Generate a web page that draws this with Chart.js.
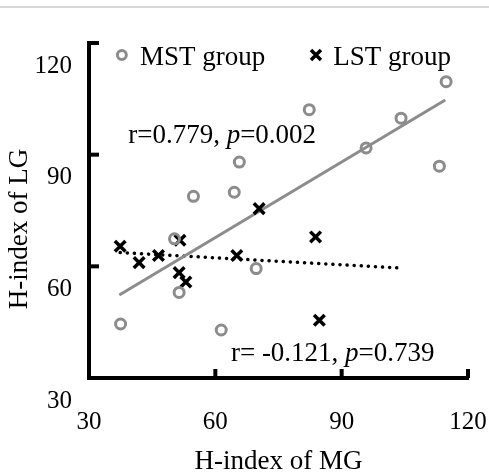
<!DOCTYPE html>
<html>
<head>
<meta charset="utf-8">
<script src="https://cdn.jsdelivr.net/npm/chart.js@4"></script>
<style>
  html, body { margin: 0; padding: 0; background: #fff; }
  #wrap { width: 489px; height: 475px; }
</style>
</head>
<body>
<div id="wrap"><canvas id="scatter" width="489" height="475"></canvas></div>
<script>
// H-index values
const mstPoints = [
    { x: 37.5, y: 44.5 }, { x: 61.4, y: 42.9 }, { x: 51.4, y: 53.0 },
    { x: 50.3, y: 67.4 }, { x: 54.8, y: 78.8 }, { x: 64.5, y: 79.9 },
    { x: 65.7, y: 88.0 }, { x: 69.7, y: 59.4 }, { x: 82.3, y: 102.1 },
    { x: 95.8, y: 91.8 }, { x: 104.1, y: 99.8 }, { x: 113.2, y: 86.9 },
    { x: 114.8, y: 109.6 }
];
const lstPoints = [
    { x: 37.4, y: 65.4 }, { x: 41.9, y: 61.0 }, { x: 46.5, y: 62.9 },
    { x: 51.6, y: 67.0 }, { x: 51.4, y: 58.3 }, { x: 53.0, y: 55.8 },
    { x: 65.1, y: 62.9 }, { x: 70.4, y: 75.5 }, { x: 83.8, y: 67.9 },
    { x: 84.7, y: 45.5 }
];
const mstTrend = [{ x: 37.2, y: 52.3 }, { x: 114.6, y: 104.7 }];
const lstTrend = [{ x: 37.4, y: 63.7 }, { x: 104.7, y: 59.5 }];
const axisTicks = [30, 60, 90, 120];
const seriesNames = ['MST group', 'LST group'];
const statTexts = [['r=0.779, ', 'p', '=0.002'], ['r= -0.121, ', 'p', '=0.739']];

const GREY = '#8c8c8c';
const SERIF = '"Liberation Serif", "DejaVu Serif", serif';
Chart.defaults.font.family = SERIF;
Chart.defaults.color = '#000';

function drawRich(ctx, parts, x, y, size) {
    parts.forEach((t, i) => {
        ctx.font = (i === 1 ? 'italic ' : '') + size + 'px ' + SERIF;
        ctx.fillText(t, x, y);
        x += ctx.measureText(t).width;
    });
}

// inward ticks, legend, stats and axis titles
const decorations = {
    id: 'decorations',
    beforeDraw(chart) {
        const ctx = chart.ctx;
        ctx.save();
        ctx.strokeStyle = '#d6d6d6';
        ctx.lineWidth = 2;
        ctx.beginPath(); ctx.moveTo(0, 7); ctx.lineTo(chart.width, 7); ctx.stroke();
        ctx.restore();
    },
    afterDraw(chart) {
        const { ctx, chartArea } = chart;
        const xs = chart.scales.x, ys = chart.scales.y;
        ctx.save();
        ctx.strokeStyle = '#000';
        ctx.lineWidth = 4;
        axisTicks.slice(1).forEach(v => {
            const px = xs.getPixelForValue(v);
            ctx.beginPath(); ctx.moveTo(px, chartArea.bottom); ctx.lineTo(px, chartArea.bottom - 9); ctx.stroke();
            const py = ys.getPixelForValue(v);
            ctx.beginPath(); ctx.moveTo(chartArea.left, py); ctx.lineTo(chartArea.left + 10, py); ctx.stroke();
        });

        // legend
        ctx.fillStyle = '#000';
        ctx.textBaseline = 'alphabetic';
        ctx.textAlign = 'left';
        const ly = ys.getPixelForValue(116.8);
        ctx.strokeStyle = GREY; ctx.lineWidth = 3;
        ctx.beginPath(); ctx.arc(xs.getPixelForValue(37.8), ly, 4.5, 0, Math.PI * 2); ctx.stroke();
        ctx.font = '27px ' + SERIF;
        ctx.fillText(seriesNames[0], xs.getPixelForValue(42.1), ly + 10);
        const cx = xs.getPixelForValue(83.9);
        ctx.strokeStyle = '#000'; ctx.lineWidth = 3.5;
        ctx.beginPath();
        ctx.moveTo(cx - 5, ly - 5); ctx.lineTo(cx + 5, ly + 5);
        ctx.moveTo(cx + 5, ly - 5); ctx.lineTo(cx - 5, ly + 5);
        ctx.stroke();
        ctx.fillText(seriesNames[1], xs.getPixelForValue(88.0), ly + 10);

        // correlation stats
        drawRich(ctx, statTexts[0], xs.getPixelForValue(39.3), ys.getPixelForValue(93.2), 27);
        drawRich(ctx, statTexts[1], xs.getPixelForValue(63.7), ys.getPixelForValue(34.6), 27);

        // axis titles
        ctx.font = '27px ' + SERIF;
        ctx.textAlign = 'center';
        ctx.textBaseline = 'middle';
        ctx.fillText('H-index of MG', (chartArea.left + chartArea.right) / 2, 462);
        ctx.translate(20, 229);
        ctx.rotate(-Math.PI / 2);
        ctx.fillText('H-index of LG', 0, 0);
        ctx.restore();
    }
};

function fixBox(size, key) {
    return s => {
        s[key] = size;
        s.paddingLeft = 0; s.paddingRight = 0; s.paddingTop = 0; s.paddingBottom = 0;
    };
}

new Chart(document.getElementById('scatter').getContext('2d'), {
    type: 'scatter',
    data: {
        datasets: [
            {
                label: seriesNames[0],
                data: mstPoints,
                pointStyle: 'circle',
                pointRadius: 5,
                borderWidth: 3,
                borderColor: GREY,
                backgroundColor: 'rgba(0,0,0,0)',
                order: 0
            },
            {
                label: seriesNames[1],
                data: lstPoints,
                pointStyle: 'crossRot',
                pointRadius: 7.5,
                borderWidth: 3.5,
                borderColor: '#000',
                backgroundColor: '#000',
                order: 0
            },
            {
                label: 'MST fit',
                data: mstTrend,
                showLine: true,
                pointRadius: 0,
                borderWidth: 3,
                borderColor: GREY,
                order: 1
            },
            {
                label: 'LST fit',
                data: lstTrend,
                showLine: true,
                pointRadius: 0,
                borderWidth: 3.5,
                borderColor: '#000',
                borderDash: [0.1, 7],
                borderCapStyle: 'round',
                order: 1
            }
        ]
    },
    options: {
        responsive: false,
        animation: false,
        layout: { padding: { top: 43, right: 21, left: 0, bottom: 0 } },
        plugins: { legend: { display: false }, tooltip: { enabled: false } },
        scales: {
            x: {
                type: 'linear',
                min: 30, max: 120,
                afterFit: fixBox(97, 'height'),
                afterBuildTicks: s => { s.ticks = axisTicks.map(v => ({ value: v })); },
                grid: { display: false },
                border: { display: true, width: 4, color: '#000' },
                ticks: { font: { size: 25 }, color: '#000', padding: 21, maxRotation: 0 }
            },
            y: {
                type: 'linear',
                min: 30, max: 120,
                afterFit: fixBox(89, 'width'),
                afterBuildTicks: s => { s.ticks = axisTicks.map(v => ({ value: v })); },
                grid: { display: false },
                border: { display: true, width: 4, color: '#000' },
                ticks: { font: { size: 25 }, color: '#000', padding: 9, labelOffset: 23 }
            }
        }
    },
    plugins: [decorations]
});
</script>
</body>
</html>
